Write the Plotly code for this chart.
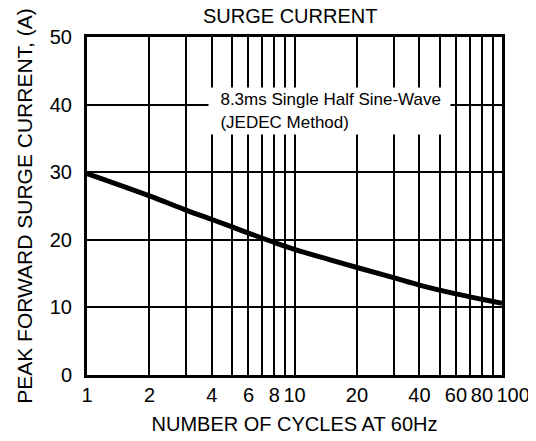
import plotly.graph_objects as go

cycles = [1, 2, 3, 4, 5, 6, 8, 10, 20, 30, 40, 60, 80, 100]
current = [29.8, 26.5, 24.4, 23.0, 21.9, 21.0, 19.6, 18.6, 15.9, 14.4, 13.3, 12.0, 11.2, 10.6]

x_ticks = [1, 2, 4, 6, 8, 10, 20, 40, 60, 80, 100]
x_tick_text = ["1", "2", "4", "6", "8", "10", "20", "40", "60", "80", "&nbsp;&nbsp;&nbsp;&nbsp;100"]
x_minor = [3, 5, 7, 9, 30, 50, 70, 90]
y_ticks = [0, 10, 20, 30, 40, 50]

FONT = "Liberation Sans, Arial, sans-serif"

fig = go.Figure()
fig.add_trace(go.Scatter(x=cycles, y=current, mode="lines",
                         line=dict(color="black", width=5, shape="spline"),
                         showlegend=False))

fig.update_layout(
    width=528, height=433,
    margin=dict(l=79, r=34, t=29, b=66),
    paper_bgcolor="white", plot_bgcolor="white",
    font=dict(family=FONT, color="black", size=20),
    annotations=[
        dict(text="SURGE CURRENT", xref="paper", yref="paper", x=0.489, y=1.101,
             xanchor="center", yanchor="top", showarrow=False,
             font=dict(size=20, family=FONT, color="black")),
        dict(text="&nbsp;&nbsp;8.3ms Single Half Sine-Wave<br>&nbsp;&nbsp;(JEDEC Method)",
             xref="paper", yref="y", x=0.2916, y=42.6, xanchor="left", yanchor="top",
             align="left", valign="middle", showarrow=False, bgcolor="white",
             borderpad=2, width=237, height=42,
             font=dict(size=17, family=FONT, color="black"))],
)
fig.update_xaxes(type="log", range=[0, 2], tickvals=x_ticks,
                 ticktext=x_tick_text, tickangle=0,
                 showgrid=True, gridcolor="black", gridwidth=2,
                 minor=dict(tickvals=x_minor, showgrid=True, gridcolor="black", gridwidth=2, ticks=""),
                 showline=True, linecolor="black", linewidth=3, mirror=True,
                 ticks="", zeroline=False, automargin=False,
                 title=dict(text="NUMBER OF CYCLES AT 60Hz", standoff=12, font=dict(size=20)))
fig.update_yaxes(range=[0, 50], tickvals=y_ticks,
                 showgrid=True, gridcolor="black", gridwidth=2,
                 showline=True, linecolor="black", linewidth=3, mirror=True,
                 ticks="", zeroline=False, automargin=False, ticklabelstandoff=8,
                 title=dict(text="PEAK FORWARD SURGE CURRENT, (A)", standoff=12, font=dict(size=21)))

fig.write_html("out.html")
